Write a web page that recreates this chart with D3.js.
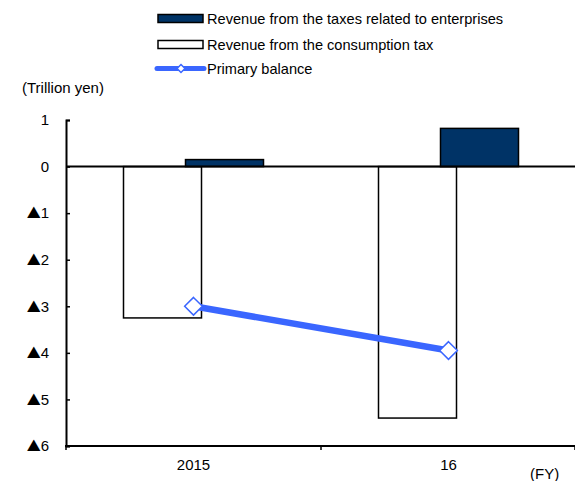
<!DOCTYPE html>
<meta charset="utf-8">
<style>
  body { margin: 0; background: #fff; }
  text { font-family: "Liberation Sans", Arial, sans-serif; fill: #000; }
</style>
<body></body>
<script src="https://d3js.org/d3.v7.min.js"></script>
<script>

var width = 575,
    height = 481;

// data
var years = ["2015", "16"];
var consumptionTax = [-3.25, -5.4];
var enterpriseTax = [0.15, 0.82];
var primaryBalance = [-3.0, -3.95];
var yTicks = [1, 0, -1, -2, -3, -4, -5, -6];
var legendLabels = ["Revenue from the taxes related to enterprises",
                    "Revenue from the consumption tax",
                    "Primary balance"];

var navy = "#003366",
    blue = "#3a66ff";

var x = d3.scaleBand().domain(years).range([66, 576]),
    y = d3.scaleLinear().domain([-6, 1]).range([446, 120]),
    off = d3.scalePoint().domain(["cons", "ent"]).range([-31, 31]),
    barW = 78;

var svg = d3.select("body").append("svg")
    .attr("width", width)
    .attr("height", height);

// legend
var lg = svg.append("g");
lg.append("rect").attr("x", 158).attr("y", 14.5).attr("width", 45).attr("height", 8)
    .attr("fill", navy).attr("stroke", "#000").attr("stroke-width", 1.5);
lg.append("rect").attr("x", 158).attr("y", 40.5).attr("width", 45).attr("height", 8)
    .attr("fill", "#fff").attr("stroke", "#000").attr("stroke-width", 1.5);
lg.append("line").attr("x1", 157).attr("x2", 204).attr("y1", 68.5).attr("y2", 68.5)
    .attr("stroke", blue).attr("stroke-width", 5).attr("stroke-linecap", "round");
lg.append("path").attr("d", d3.symbol(d3.symbolDiamond2, 40)())
    .attr("transform", "translate(181,68.5)")
    .attr("fill", "#fff").attr("stroke", blue).attr("stroke-width", 1.5);
lg.selectAll("text.lab")
    .data(legendLabels)
  .enter().append("text")
    .attr("class", "lab")
    .attr("x", 207)
    .attr("y", function(d, i) { return [24, 50, 74][i]; })
    .style("font-size", "14.6px")
    .text(function(d) { return d; });

svg.append("text").attr("x", 22).attr("y", 93)
    .style("font-size", "15px")
    .text("(Trillion yen)");

// bars
var bars = svg.append("g");
bars.selectAll("rect.cons")
    .data(consumptionTax)
  .enter().append("rect")
    .attr("class", "cons")
    .attr("x", function(d, i) { return x(years[i]) + x.bandwidth() / 2 + off("cons") - barW / 2; })
    .attr("y", function(d) { return y(Math.max(0, d)); })
    .attr("width", barW)
    .attr("height", function(d) { return Math.abs(y(d) - y(0)); })
    .attr("fill", "#fff")
    .attr("stroke", "#000")
    .attr("stroke-width", 1.5);

bars.selectAll("rect.ent")
    .data(enterpriseTax)
  .enter().append("rect")
    .attr("class", "ent")
    .attr("x", function(d, i) { return x(years[i]) + x.bandwidth() / 2 + off("ent") - barW / 2; })
    .attr("y", function(d) { return y(Math.max(0, d)); })
    .attr("width", barW)
    .attr("height", function(d) { return Math.abs(y(d) - y(0)); })
    .attr("fill", navy)
    .attr("stroke", "#000")
    .attr("stroke-width", 1.5);

// zero line
svg.append("line")
    .attr("x1", 66).attr("x2", 575)
    .attr("y1", y(0)).attr("y2", y(0))
    .attr("stroke", "#000").attr("stroke-width", 2);

// y axis
var yAxis = d3.axisRight(y)
    .tickValues(yTicks)
    .tickSize(4)
    .tickFormat(function(d) { return Math.abs(d); });
var gy = svg.append("g").attr("transform", "translate(66,0)").call(yAxis);
gy.select(".domain").attr("stroke-width", 2);
gy.selectAll(".tick line").attr("stroke-width", 1.5);
gy.selectAll(".tick text")
    .attr("x", -17)
    .attr("text-anchor", "end")
    .style("font-size", "15px")
    .style("font-family", "'Liberation Sans', Arial, sans-serif")
    .each(function(d) {
      if (d >= 0) return;
      var t = d3.select(this).text(null);
      t.append("tspan")
          .style("font-family", "'Noto Sans CJK JP', 'DejaVu Sans', sans-serif")
          .style("font-size", "14px")
          .text("\u25B2");
      t.append("tspan").text(-d);
    });

// x axis
var gx = svg.append("g").attr("transform", "translate(0," + y(-6) + ")");
gx.append("line").attr("x1", 65).attr("x2", 575).attr("stroke", "#000").attr("stroke-width", 2);
gx.selectAll("line.tk")
    .data(years.concat(["end"]))
  .enter().append("line")
    .attr("class", "tk")
    .attr("x1", function(d, i) { return i < years.length ? x(d) : x.range()[1] - 1; })
    .attr("x2", function(d, i) { return i < years.length ? x(d) : x.range()[1] - 1; })
    .attr("y1", 0).attr("y2", 4)
    .attr("stroke", "#000").attr("stroke-width", 1.5);
gx.selectAll("text")
    .data(years)
  .enter().append("text")
    .attr("x", function(d) { return x(d) + x.bandwidth() / 2; })
    .attr("y", 24)
    .attr("text-anchor", "middle")
    .style("font-size", "15px")
    .text(function(d) { return d; });

svg.append("text").attr("x", 530).attr("y", 479)
    .style("font-size", "15px")
    .text("(FY)");

// primary balance line
var line = d3.line()
    .x(function(d, i) { return x(years[i]) + x.bandwidth() / 2; })
    .y(function(d) { return y(d); });
svg.append("path")
    .datum(primaryBalance)
    .attr("d", line)
    .attr("fill", "none")
    .attr("stroke", blue)
    .attr("stroke-width", 6.5);
svg.selectAll("path.mk")
    .data(primaryBalance)
  .enter().append("path")
    .attr("class", "mk")
    .attr("d", d3.symbol(d3.symbolDiamond2, 200)())
    .attr("transform", function(d, i) {
      return "translate(" + (x(years[i]) + x.bandwidth() / 2) + "," + y(d) + ")";
    })
    .attr("fill", "#fff")
    .attr("stroke", blue)
    .attr("stroke-width", 1.5);

</script>
